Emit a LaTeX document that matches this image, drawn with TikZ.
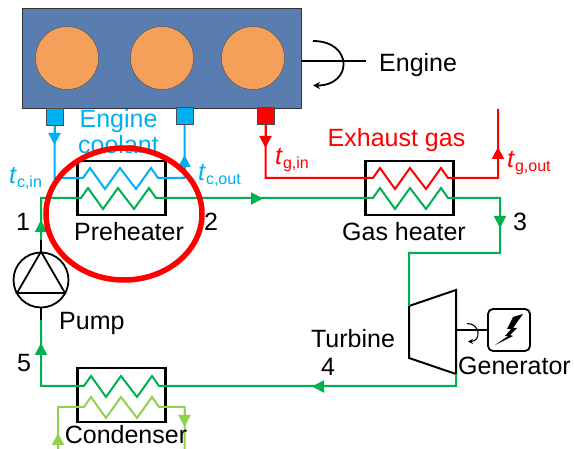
\documentclass[tikz,border=0pt]{standalone}
\usepackage{fontspec}
\setmainfont{Liberation Sans}
\usepackage{tikz}
\usetikzlibrary{calc}
\usetikzlibrary{arrows.meta,shapes.geometric}
\definecolor{EngineBlue}{HTML}{5A7DB0}
\definecolor{PistonOrange}{HTML}{F4A05A}
\definecolor{CoolantBlue}{HTML}{00B0F0}
\definecolor{CycleGreen}{HTML}{00B050}
\definecolor{WaterGreen}{HTML}{92D050}
\newcommand{\NameCoil}{-- ++(7,-10) -- ++(15,21) -- ++(15,-21) -- ++(16,21) -- ++(15,-21) -- ++(7,10)}
\newcommand{\NameTemp}[2]{\textit{#1}\raisebox{-4pt}{\fontsize{16}{16}\selectfont #2}}

\begin{document}
\begin{tikzpicture}[x=1pt,y=-1pt,line join=miter
        ,every node/.style={font=\fontsize{25}{25}\selectfont,inner sep=0pt}
        ,piston/.style = {draw=black!70,thin,circle,fill=PistonOrange,minimum size=63pt}
        ,port/.style = {draw=black!70,thick,minimum size=17pt}
        ,hex/.style = {draw=black,line width=2.1pt,minimum width=88pt,minimum height=54pt}
        ,pipe/.style = {line width=2pt}
        ,black line/.style = {line width=1.8pt,black}
        ,tip/.style = {-{Triangle[length=12pt,width=12pt]},line width=2pt,shorten >=0pt}
      ]
      \useasboundingbox (0,0) rectangle (574,449);

      \node[draw=black!80,thin,fill=EngineBlue,minimum width=279pt,minimum height=100pt](engine) at (161.5,58) {};
      \node[piston](pisA) at (67,58) {};
      \node[piston](pisB) at (162,58) {};
      \node[piston](pisC) at (253,58) {};
      \node[port,fill=CoolantBlue](portA) at (54.5,117) {};
      \node[port,fill=CoolantBlue](portB) at (184.5,116) {};
      \node[port,fill=red](portC) at (265.5,116) {};

      \node[hex](pre) at (121.5,188) {};
      \node[hex](gas) at (409.5,188) {};
      \node[hex](con) at (121.5,395) {};

      \coordinate (shaftEnd) at (366,61);
      \draw[black line] (301,61) -- (shaftEnd);
      \coordinate (rotA) at (313,41);
      \coordinate (rotB) at (313,85.5);
      \draw[black line,-{Stealth[length=7pt,width=7pt]}] (rotA) .. controls (353,41) and (353,85.5) .. (rotB);
      \node[anchor=west](lblEngine) at (379,65) {Engine};

      % coolant loop
      \coordinate (coilA) at (83,178);
      \coordinate (arrA) at (54.5,145);
      \coordinate (arrB) at (184.5,155);
      \draw[pipe,CoolantBlue] (portA.south) |- (coilA) \NameCoil -| (portB.south);
      \draw[tip,CoolantBlue] (portA.south) -- (arrA);
      \draw[tip,CoolantBlue] (184.5,172) -- (arrB);

      % exhaust
      \coordinate (coilB) at (373,178);
      \coordinate (gasOut) at (498,109);
      \coordinate (arrC) at (265.5,148);
      \coordinate (arrD) at (498,147);
      \draw[pipe,red] (portC.south) |- (coilB) \NameCoil -| (gasOut);
      \draw[tip,red] (portC.south) -- (arrC);
      \draw[tip,red] (498,170) -- (arrD);

      \node[draw=black,line width=1.8pt,circle,minimum size=55pt](pump) at (41,280) {};
      \coordinate (triL) at (17,293);
      \coordinate (triR) at (65,293);
      \draw[black line] (pump.north) -- (triL) -- (triR) -- cycle;

      \coordinate (turbA) at (409,306);
      \coordinate (turbB) at (456,290);
      \coordinate (turbC) at (456,374);
      \coordinate (turbD) at (409,358);
      \draw[line width=2pt,black] (turbA) -- (turbB) -- (turbC) -- (turbD) -- cycle;

      % working fluid cycle
      \coordinate (coilC) at (81,198);
      \coordinate (coilD) at (373,198);
      \coordinate (coilE) at (84,386);
      \coordinate (bendA) at (500,253);
      \coordinate (bendB) at (456,386);
      \coordinate (stubT) at (41,240);
      \coordinate (stubB) at (41,320);
      \draw[pipe,CycleGreen] (stubT) |- (coilC) \NameCoil -- (coilD) \NameCoil -| (bendA) -| (turbA);
      \draw[pipe,CycleGreen] (stubB) |- (coilE) \NameCoil -- (bendB) -- (turbC);
      \draw[black line] (stubT) -- (pump.north);
      \draw[black line] (stubB) -- (pump.south);
      \draw[tip,CycleGreen] (41,240) -- (41,220);
      \draw[tip,CycleGreen] (230,198.5) -- (263,198.5);
      \draw[tip,CycleGreen] (500,205) -- (500,228);
      \draw[tip,CycleGreen] (340,386.5) -- (312,386.5);
      \draw[tip,CycleGreen] (41,365) -- (41,343);

      % cooling water
      \coordinate (waterIn) at (58,449);
      \coordinate (waterOut) at (184.5,449);
      \coordinate (coilF) at (84,407);
      \draw[pipe,WaterGreen] (waterIn) |- (coilF) \NameCoil -| (waterOut);
      \draw[tip,WaterGreen] (58,449) -- (58,433);
      \draw[tip,WaterGreen] (184.5,410) -- (184.5,427);

      % generator
      \node[draw=black,line width=1.8pt,rounded corners=5pt,minimum size=42pt](gen) at (509,330) {};
      \draw[black line] (turbB |- gen.west) -- (gen.west);
      \coordinate (rotC) at (467,323.5);
      \coordinate (rotD) at (468,341.5);
      \draw[line width=1.1pt,-{Stealth[length=5pt,width=5pt]}] (rotC) .. controls (481,323.5) and (481,341.5) .. (rotD);
      \fill[black] (523,314) -- (513,317) -- (507,329) -- (511,329) -- (505,336) -- (508,336) -- (495,345) -- (513,336) -- (510,335) -- (517,328) -- (513,328) -- cycle;

      \node(lblCoolA) at (118.5,121) {\color{CoolantBlue}Engine};
      \node(lblCoolB) at (118.5,145) {\color{CoolantBlue}coolant};
      \node[anchor=west](lblCin) at (9,178) {\color{CoolantBlue}\NameTemp{t}{c,in}};
      \node[anchor=west](lblCout) at (198,175) {\color{CoolantBlue}\NameTemp{t}{c,out}};
      \node(lblExh) at (396.5,140) {\color{red}Exhaust gas};
      \node[anchor=west](lblGin) at (275,160) {\color{red}\NameTemp{t}{g,in}};
      \node[anchor=west](lblGout) at (507,163) {\color{red}\NameTemp{t}{g,out}};
      \node(lblPre) at (129,232) {Preheater};
      \node(lblGas) at (404,232) {Gas heater};
      \node(lblCon) at (126,434.5) {Condenser};
      \node[anchor=west](lblPump) at (59,323) {Pump};
      \node(lblTurb) at (353,339) {Turbine};
      \node(lblGen) at (514.5,366) {Generator};
      \node(numA) at (23,222) {1};
      \node(numB) at (211,222) {2};
      \node(numC) at (520,222) {3};
      \node(numD) at (328,367) {4};
      \node(numE) at (24,363) {5};

      \coordinate (mark) at (124,214);
      \draw[red,line width=5.5pt] (mark) ellipse [x radius=78pt,y radius=66pt];
    \end{tikzpicture}
\end{document}
